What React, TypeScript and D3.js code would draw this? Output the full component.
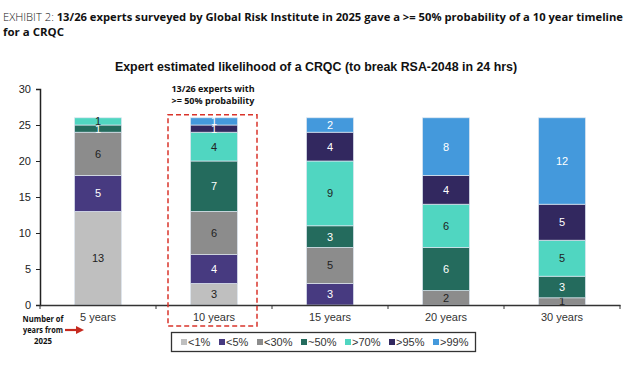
import { useEffect, useRef } from 'react';
import * as d3 from 'd3';

const categories = ['5 years', '10 years', '15 years', '20 years', '30 years'];
const seriesNames = ['<1%', '<5%', '<30%', '~50%', '>70%', '>95%', '>99%'];
// counts of experts per likelihood bucket, per timeline
const lt1 = [13, 3, 0, 0, 0];
const lt5 = [5, 4, 3, 0, 0];
const lt30 = [6, 6, 5, 2, 1];
const approx50 = [1, 7, 3, 6, 3];
const gt70 = [1, 4, 9, 6, 5];
const gt95 = [0, 1, 4, 4, 5];
const gt99 = [0, 1, 2, 8, 12];
const yTicks = [0, 5, 10, 15, 20, 25, 30];

const COLORS = ['#bfbfbf', '#473a80', '#8c8c8c', '#246b5d', '#50d6c1', '#32285f', '#4499dc'];
const LABEL_COLORS = ['#222', '#fff', '#222', '#fff', '#222', '#fff', '#fff'];

export default function App() {
  const svgRef = useRef<SVGSVGElement>(null);

  useEffect(() => {
    if (!svgRef.current) return;
    const width = 632;
    const height = 374;
    const margin = { top: 89, right: 12, bottom: 69, left: 40 };

    const svg = d3.select(svgRef.current);
    svg.selectAll('*').remove();
    svg.attr('width', width).attr('height', height);

    const seriesValues = [lt1, lt5, lt30, approx50, gt70, gt95, gt99];
    const rows = categories.map((c, i) => {
      const row: Record<string, any> = { category: c };
      seriesNames.forEach((s, j) => { row[s] = seriesValues[j][i]; });
      return row;
    });
    const stacked = d3.stack<Record<string, any>>().keys(seriesNames)(rows);

    const x = d3.scaleBand()
      .domain(categories)
      .range([margin.left, width - margin.right])
      .paddingInner(0.595)
      .paddingOuter(0.2975);

    const y = d3.scaleLinear()
      .domain([0, 30])
      .range([height - margin.bottom, margin.top]);

    // Header
    const header = svg.append('text')
      .attr('x', 3)
      .attr('y', 21)
      .attr('font-family', 'Open Sans, sans-serif')
      .attr('font-size', '11px')
      .attr('fill', '#111')
      .attr('textLength', 620)
      .attr('lengthAdjust', 'spacingAndGlyphs');
    header.append('tspan').attr('font-weight', '300').text('EXHIBIT 2: ');
    header.append('tspan').attr('font-weight', '700')
      .text('13/26 experts surveyed by Global Risk Institute in 2025 gave a >= 50% probability of a 10 year timeline');
    svg.append('text')
      .attr('x', 3)
      .attr('y', 36)
      .attr('font-family', 'Open Sans, sans-serif')
      .attr('font-size', '11px')
      .attr('font-weight', '700')
      .attr('fill', '#111')
      .attr('textLength', 61)
      .attr('lengthAdjust', 'spacingAndGlyphs')
      .text('for a CRQC');

    // Chart title
    svg.append('text')
      .attr('x', 316)
      .attr('y', 71)
      .attr('text-anchor', 'middle')
      .attr('font-family', 'Liberation Sans, Arial, sans-serif')
      .attr('font-size', '12.4px')
      .attr('font-weight', '700')
      .attr('fill', '#111')
      .text('Expert estimated likelihood of a CRQC (to break RSA-2048 in 24 hrs)');

    // Bars
    const layers = svg.append('g');
    stacked.forEach((layer, j) => {
      layers.append('g')
        .selectAll('rect')
        .data(layer)
        .enter()
        .filter(d => d[1] - d[0] > 0)
        .append('rect')
        .attr('x', d => x(d.data.category) || 0)
        .attr('y', d => y(d[1]))
        .attr('width', x.bandwidth())
        .attr('height', d => y(d[0]) - y(d[1]))
        .attr('fill', COLORS[j])
        .attr('stroke', '#dde6f0')
        .attr('stroke-width', 0.7);

      layers.append('g')
        .selectAll('text')
        .data(layer)
        .enter()
        .filter(d => d[1] - d[0] > 0)
        .append('text')
        .attr('x', d => (x(d.data.category) || 0) + x.bandwidth() / 2)
        .attr('y', d => (y(d[0]) + y(d[1])) / 2)
        .attr('text-anchor', 'middle')
        .attr('dominant-baseline', 'central')
        .attr('font-family', 'Liberation Sans, Arial, sans-serif')
        .attr('font-size', '11px')
        .attr('fill', LABEL_COLORS[j])
        .text(d => d[1] - d[0]);
    });

    // Y axis
    const yAxis = svg.append('g')
      .attr('transform', `translate(${margin.left},0)`)
      .call(d3.axisLeft(y).tickValues(yTicks).tickSize(4).tickPadding(5));
    yAxis.select('.domain').attr('stroke', '#222').attr('stroke-width', 1.5);
    yAxis.selectAll('.tick line').attr('stroke', '#222');
    yAxis.selectAll('.tick text')
      .attr('font-family', 'Liberation Sans, Arial, sans-serif')
      .attr('font-size', '11px')
      .attr('fill', '#222');

    // X axis
    const x0 = y(0);
    const xAxis = svg.append('g')
      .attr('transform', `translate(0,${x0})`)
      .call(d3.axisBottom(x).tickSize(0).tickPadding(8));
    xAxis.select('.domain').attr('stroke', '#333').attr('stroke-width', 1.5);
    xAxis.selectAll('.tick text')
      .attr('font-family', 'Liberation Sans, Arial, sans-serif')
      .attr('font-size', '11px')
      .attr('fill', '#333');
    const step = x.step();
    xAxis.selectAll('.sep')
      .data(d3.range(categories.length + 1))
      .enter()
      .append('line')
      .attr('x1', i => margin.left + i * step)
      .attr('x2', i => margin.left + i * step)
      .attr('y1', 0)
      .attr('y2', 4)
      .attr('stroke', '#333')
      .attr('stroke-width', 1);

    // Highlight box around 10 years
    const cx = (x('10 years') || 0) + x.bandwidth() / 2;
    svg.append('rect')
      .attr('x', cx - 46)
      .attr('y', y(26) - 3)
      .attr('width', 89)
      .attr('height', 326 - (y(26) - 3))
      .attr('fill', 'none')
      .attr('stroke', '#d9342b')
      .attr('stroke-width', 1.5)
      .attr('stroke-dasharray', '5,3');
    const note = svg.append('text')
      .attr('text-anchor', 'middle')
      .attr('font-family', 'Open Sans, sans-serif')
      .attr('font-size', '9px')
      .attr('font-weight', '700')
      .attr('fill', '#111');
    note.append('tspan').attr('x', cx - 1).attr('y', 92).text('13/26 experts with');
    note.append('tspan').attr('x', cx - 1).attr('y', 104).text('>= 50% probability');

    // "Number of years from 2025" note with arrow
    const sideLines = [
      { t: 'Number of', y: 322, w: 41 },
      { t: 'years from', y: 333, w: 40 },
      { t: '2025', y: 344, w: 18 },
    ];
    svg.append('g')
      .selectAll('text')
      .data(sideLines)
      .enter()
      .append('text')
      .attr('x', d => 43 - d.w / 2)
      .attr('y', d => d.y)
      .attr('textLength', d => d.w)
      .attr('lengthAdjust', 'spacingAndGlyphs')
      .attr('font-family', 'Open Sans, sans-serif')
      .attr('font-size', '8px')
      .attr('font-weight', '700')
      .attr('fill', '#111')
      .text(d => d.t);
    svg.append('line')
      .attr('x1', 65).attr('x2', 77)
      .attr('y1', 330).attr('y2', 330)
      .attr('stroke', '#c62a1f')
      .attr('stroke-width', 2.2);
    svg.append('path')
      .attr('d', 'M76,326 L84,330 L76,334 Z')
      .attr('fill', '#c62a1f');

    // Legend
    svg.append('rect')
      .attr('x', 171.5)
      .attr('y', 332.5)
      .attr('width', 304)
      .attr('height', 19)
      .attr('fill', '#fff')
      .attr('stroke', '#333')
      .attr('stroke-width', 1.3);
    const legendX = [181, 219, 257, 301, 345, 389, 433];
    const legend = svg.append('g')
      .selectAll('g')
      .data(seriesNames)
      .enter()
      .append('g')
      .attr('transform', (_, i) => `translate(${legendX[i]},342)`);
    legend.append('rect')
      .attr('x', 0)
      .attr('y', -3)
      .attr('width', 6)
      .attr('height', 6)
      .attr('fill', (_, i) => COLORS[i]);
    legend.append('text')
      .attr('x', 7)
      .attr('y', 0)
      .attr('dominant-baseline', 'central')
      .attr('font-family', 'Liberation Sans, Arial, sans-serif')
      .attr('font-size', '11px')
      .attr('fill', '#333')
      .text(d => d);
  }, []);

  return (
    <div style={{ position: 'absolute', left: 0, top: 0 }}>
      <svg ref={svgRef}></svg>
    </div>
  );
}
